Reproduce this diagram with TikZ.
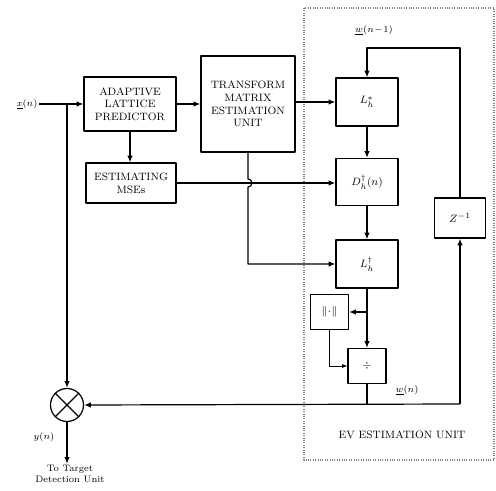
\documentclass[tikz,border=0pt]{standalone}
\usetikzlibrary{arrows.meta}
\tikzset{
  blk/.style={draw, line width=0.9pt, align=center, inner sep=1pt, font=\footnotesize},
  lnk/.style={line width=0.9pt, -{Latex[length=5pt,width=4pt]}},
  thinlnk/.style={line width=0.5pt, -{Latex[length=4pt,width=3pt]}},
  lbl/.style={font=\scriptsize, inner sep=1pt},
}
\begin{document}
\begin{tikzpicture}[x=0.75pt, y=-0.75pt, line join=round]
    \useasboundingbox (0,0) rectangle (496,491);
    % EV estimation unit frame
    \draw[densely dotted, gray, line width=0.8pt] (304,8) rectangle (494,460);
    \node[font=\footnotesize] (evlabel) at (402,435) {EV ESTIMATION UNIT};
    % blocks
    \node[blk, minimum width=92*0.75pt, minimum height=54*0.75pt] (alp) at (130,104) {ADAPTIVE\\LATTICE\\PREDICTOR};
    \node[blk, minimum width=90*0.75pt, minimum height=40*0.75pt] (mse) at (131,183) {ESTIMATING\\MSEs};
    \node[blk, minimum width=94*0.75pt, minimum height=96*0.75pt] (tmeu) at (248,104) {TRANSFORM\\MATRIX\\ESTIMATION\\UNIT};
    \node[blk, minimum width=62*0.75pt, minimum height=48*0.75pt] (lplus) at (367,102) {$L_h^{*}$};
    \node[blk, minimum width=62*0.75pt, minimum height=47*0.75pt] (dh) at (367,182) {$D_h^{\dagger}(n)$};
    \node[blk, minimum width=62*0.75pt, minimum height=48*0.75pt] (ldag) at (367,264) {$L_h^{\dagger}$};
    \node[blk, minimum width=38*0.75pt, minimum height=35*0.75pt] (norm) at (329.5,312) {$\|\!\cdot\!\|$};
    \node[blk, minimum width=38*0.75pt, minimum height=35*0.75pt] (divb) at (367,366) {$\div$};
    \node[blk, minimum width=51*0.75pt, minimum height=40*0.75pt] (zinv) at (460,218) {$Z^{-1}$};
    \node[draw, circle, line width=0.9pt, minimum size=33*0.75pt, inner sep=0pt] (mult) at (67,405) {};
    \draw[line width=0.9pt] (mult.north west) -- (mult.south east);
    \draw[line width=0.9pt] (mult.north east) -- (mult.south west);
    % labels
    \node[lbl] (xin) at (27,104) {$\underline{x}(n)$};
    \node[lbl] (wprev) at (374,30) {$\underline{w}(n\!-\!1)$};
    \node[lbl] (wcur) at (407,390) {$\underline{w}(n)$};
    \node[lbl] (yout) at (44,437) {$y(n)$};
    \node[lbl, align=center] (tgt) at (70,474) {To Target\\Detection Unit};
    % junctions
    \coordinate (j1) at (67,104);
    \coordinate (hop) at (tmeu.south |- mse.east);
    \coordinate (br) at (ldag.south |- norm.east);
    \coordinate (wn) at (367,404);
    \coordinate (zfoot) at (zinv.south |- wn);
    \coordinate (ztop) at (460,48);
    % connections
    \draw[lnk] (xin.east) -- (alp.west);
    \draw[lnk] (j1) -- (mult.north);
    \draw[lnk] (alp.east) -- (tmeu.west |- alp.east);
    \draw[lnk] (alp.south) -- (alp.south |- mse.north);
    \draw[lnk] (tmeu.east |- lplus.west) -- (lplus.west);
    \draw[lnk] (mse.east) -- (mse.east -| dh.west);
    \draw[lnk] (tmeu.south) -- ([yshift=3pt]hop) arc[start angle=90, end angle=-90, radius=3pt]
        -- (tmeu.south |- ldag.west) -- (ldag.west);
    \draw[lnk] (lplus.south) -- (dh.north);
    \draw[lnk] (dh.south) -- (ldag.north);
    \draw[lnk] (ldag.south) -- (divb.north);
    \draw[lnk] (br) -- (norm.east);
    \draw[thinlnk] (norm.south) -- (norm.south |- divb.west) -- (divb.west);
    \draw[line width=0.9pt] (divb.south) -- (wn);
    \draw[lnk] (zfoot) -- (mult.east);
    \draw[lnk] (zfoot) -- (zinv.south);
    \draw[lnk] (zinv.north) -- (ztop) -| (lplus.north);
    \draw[lnk] (mult.south) -- (mult.south |- tgt.north);
\end{tikzpicture}
\end{document}
